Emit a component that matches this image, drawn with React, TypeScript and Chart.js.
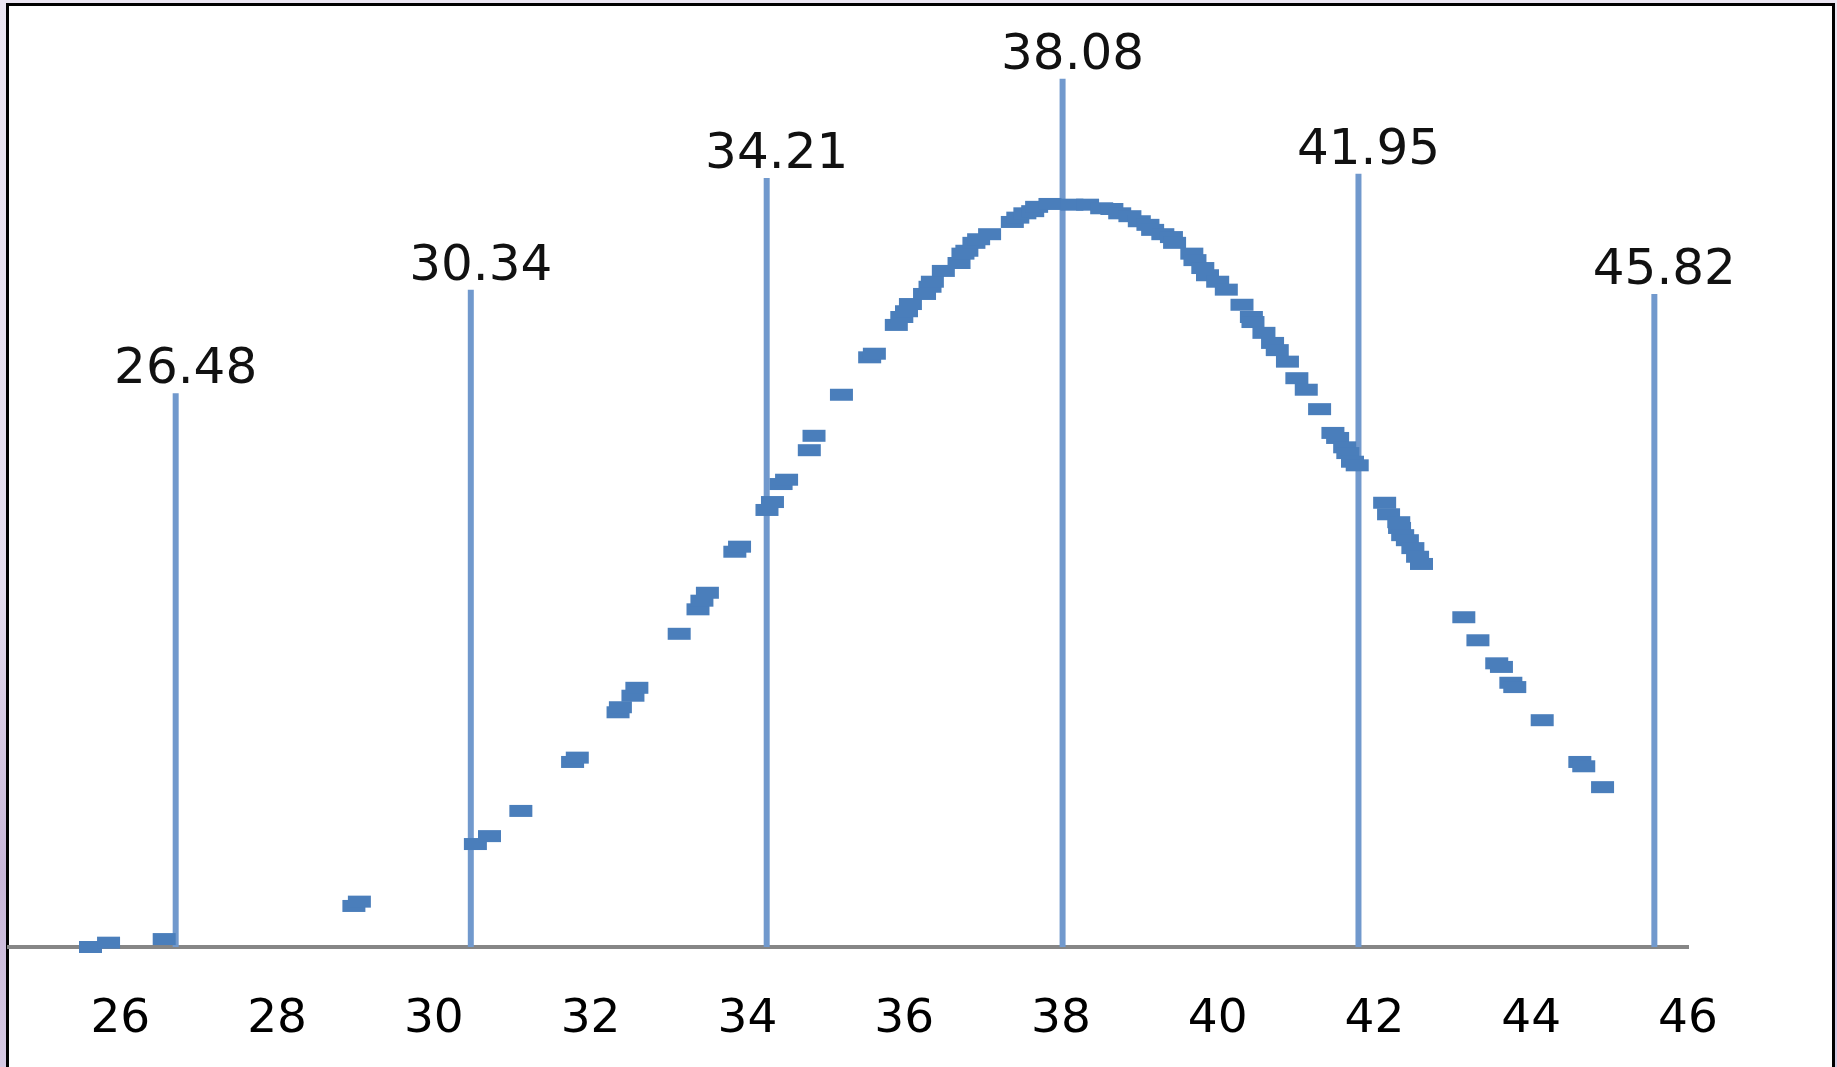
import React, { useEffect, useRef } from "react";
import { Chart, registerables } from "chart.js";

Chart.register(...registerables);

// x-axis tick labels
const xTicks = [26, 28, 30, 32, 34, 36, 38, 40, 42, 44, 46];

// vertical marker lines (value and height) with their labels (plotted on a hidden secondary x axis)
const dropX = [26.48, 30.34, 34.21, 38.08, 41.95, 45.82];
const dropH = [0.0769, 0.0913, 0.1068, 0.1206, 0.1074, 0.0907];
const dropLabels = ["26.48", "30.34", "34.21", "38.08", "41.95", "45.82"];

// scatter sample points (bell-shaped)
const sampleX = [
  25.62, 25.85, 26.56, 28.98, 29.05, 30.53, 30.71, 31.11, 31.77, 31.83,
  32.35, 32.38, 32.54, 32.59, 33.13, 33.37, 33.42, 33.49, 33.84, 33.9,
  34.25, 34.32, 34.43, 34.5, 34.79, 34.85, 35.2, 35.56, 35.62, 35.9,
  35.97, 36.03, 36.08, 36.26, 36.33, 36.36, 36.5, 36.7, 36.75, 36.8,
  36.89, 36.95, 37.09, 37.38, 37.45, 37.54, 37.64, 37.69, 37.86, 38.14,
  38.34, 38.52, 38.65, 38.75, 38.88, 39.0, 39.11, 39.17, 39.3, 39.41,
  39.45, 39.67, 39.71, 39.81, 39.87, 40.0, 40.11, 40.31, 40.43, 40.45,
  40.59, 40.7, 40.76, 40.89, 41.01, 41.13, 41.3, 41.47, 41.53, 41.62,
  41.66, 41.72, 41.78, 42.13, 42.18, 42.31, 42.32, 42.36, 42.42, 42.49,
  42.55, 42.6, 43.14, 43.32, 43.56, 43.62, 43.74, 43.79, 44.14, 44.62,
  44.67, 44.91,
];
const sampleY = [
  0.0, 0.0006, 0.0011, 0.0057, 0.0063, 0.0143, 0.0154, 0.0189, 0.0257, 0.0263,
  0.0326, 0.0333, 0.0349, 0.036, 0.0435, 0.0469, 0.0481, 0.0492, 0.0549, 0.0556,
  0.0607, 0.0618, 0.0643, 0.0649, 0.069, 0.071, 0.0767, 0.0819, 0.0824, 0.0864,
  0.0875, 0.0883, 0.0893, 0.0907, 0.0917, 0.0924, 0.0939, 0.095, 0.0963, 0.0967,
  0.0978, 0.0983, 0.099, 0.1007, 0.1013, 0.1019, 0.1022, 0.1028, 0.1032, 0.1031,
  0.1031, 0.1026, 0.1025, 0.1019, 0.1015, 0.1008, 0.1003, 0.0996, 0.099, 0.0986,
  0.0978, 0.0963, 0.0954, 0.0943, 0.0933, 0.0924, 0.0913, 0.0892, 0.0875, 0.0868,
  0.0853, 0.0839, 0.0829, 0.0813, 0.079, 0.0774, 0.0747, 0.0714, 0.0707, 0.0694,
  0.0686, 0.0674, 0.0669, 0.0617, 0.0601, 0.059, 0.0582, 0.0572, 0.0565, 0.0554,
  0.0542, 0.0532, 0.0458, 0.0426, 0.0394, 0.0389, 0.0367, 0.0361, 0.0315, 0.0257,
  0.0251, 0.0222,
];

const dropLabelPlugin = {
  id: "dropLabels",
  afterDatasetsDraw(chart: any) {
    const { ctx } = chart;
    const xs = chart.scales.x2;
    const ys = chart.scales.y;
    ctx.save();
    ctx.font = '50px "DejaVu Sans"';
    ctx.fillStyle = "#111111";
    ctx.textAlign = "center";
    ctx.textBaseline = "alphabetic";
    dropX.forEach((v, i) => {
      ctx.fillText(dropLabels[i], xs.getPixelForValue(v) + 10, ys.getPixelForValue(dropH[i]) - 10);
    });
    ctx.restore();
  },
};

export default function App() {
  const ref = useRef<HTMLCanvasElement | null>(null);

  useEffect(() => {
    if (!ref.current) return;
    const scatter = {
      label: "samples",
      data: sampleX.map((x, i) => ({ x, y: sampleY[i] })),
      xAxisID: "x",
      pointStyle: "line",
      pointRadius: 11.5,
      pointBorderWidth: 12,
      pointBorderColor: "#4a7ebb",
      pointBackgroundColor: "#4a7ebb",
      showLine: false,
      clip: false,
    };
    const drops = dropX.map((x, i) => ({
      label: dropLabels[i],
      data: [
        { x, y: 0 },
        { x, y: dropH[i] },
      ],
      xAxisID: "x2",
      showLine: true,
      borderColor: "#7199cd",
      borderWidth: 6,
      pointRadius: 0,
      clip: false,
    }));
    const chart = new Chart(ref.current, {
      type: "scatter",
      data: { datasets: [scatter as any, ...(drops as any)] },
      options: {
        animation: false,
        responsive: false,
        devicePixelRatio: 1,
        events: [],
        layout: { autoPadding: false, padding: { left: 9, right: 149, top: 11, bottom: 0 } },
        plugins: { legend: { display: false }, tooltip: { enabled: false } },
        scales: {
          x: {
            type: "linear",
            position: "bottom",
            min: 24.58,
            max: 46,
            afterBuildTicks: (s: any) => {
              s.ticks = xTicks.map((v) => ({ value: v }));
            },
            afterFit: (s: any) => {
              s.height = 120;
              s.paddingLeft = 0;
              s.paddingRight = 0;
            },
            ticks: {
              color: "#000000",
              font: { family: "DejaVu Sans", size: 47 },
              padding: 45,
              maxRotation: 0,
              autoSkip: false,
            },
            grid: { display: true, drawOnChartArea: false, drawTicks: false, color: "rgba(0,0,0,0)" },
            border: { display: true, color: "#868686", width: 4 },
          },
          x2: {
            type: "linear",
            position: "top",
            display: false,
            min: 24.3,
            max: 46.26,
          },
          y: { display: false, min: 0, max: 0.13 },
        },
      },
      plugins: [dropLabelPlugin],
    });
    return () => chart.destroy();
  }, []);

  return (
    <div
      style={{
        position: "fixed",
        left: 0,
        top: 0,
        width: 1837,
        height: 1067,
        overflow: "hidden",
        background:
          "linear-gradient(to bottom, #ebe5f2 0%, #e4dcee 55%, #c8b6d8 82%, #d6c9e3 100%)",
      }}
    >
      <div
        style={{
          position: "absolute",
          left: 6,
          top: 3,
          width: 1829,
          height: 1120,
          boxSizing: "border-box",
          border: "3px solid #000",
          background: "#ffffff",
        }}
      />
      <canvas
        ref={ref}
        width={1837}
        height={1067}
        style={{ position: "absolute", left: 0, top: 0, width: 1837, height: 1067 }}
      />
    </div>
  );
}
